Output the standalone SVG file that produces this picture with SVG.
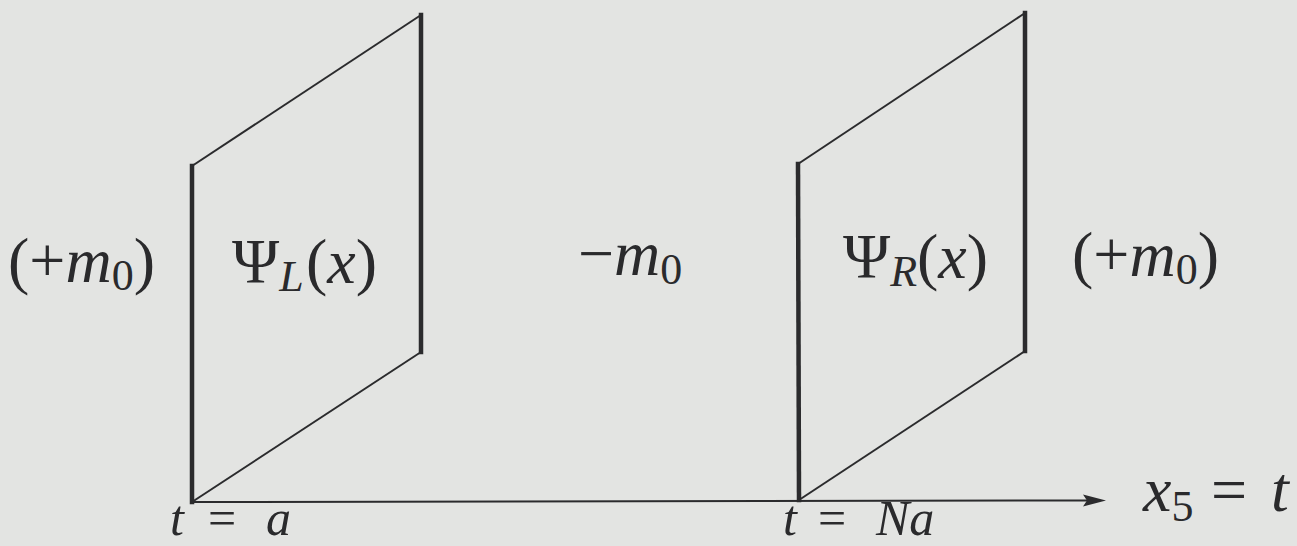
<svg xmlns="http://www.w3.org/2000/svg" width="1297" height="546" viewBox="0 0 1297 546">
<style>
.thick{stroke:#2b2b2d;stroke-width:4.5;fill:none;stroke-linecap:square}
.thin{stroke:#2b2b2d;stroke-width:2;fill:none}
.m{font-family:"Liberation Serif","Times New Roman",serif;font-size:64px;fill:#2a2a2c}
.b{font-size:50px}
.i{font-style:italic}
.s{font-size:44px}
</style>
<rect width="1297" height="546" fill="#e3e4e2"/>
<g id="connectors">
<line x1="192" y1="502" x2="1090" y2="500.5" class="thin"/>
<polygon points="1083,494.5 1106,500.5 1083,506.5 1087,500.5" fill="#2b2b2d"/>
</g>
<g id="panel-left">
<line x1="192" y1="166" x2="192" y2="502" class="thick"/>
<line x1="421" y1="15" x2="421" y2="352" class="thick"/>
<line x1="192" y1="166" x2="421" y2="15" class="thin"/>
<line x1="192" y1="502" x2="421" y2="352" class="thin"/>
<text class="m" x="232" y="283">Ψ<tspan class="i s" dy="8">L</tspan><tspan dy="-8" x="306">(</tspan><tspan class="i">x</tspan>)</text>
</g>
<g id="panel-right">
<line x1="798" y1="164" x2="799" y2="500" class="thick"/>
<line x1="1025" y1="13" x2="1025" y2="351" class="thick"/>
<line x1="798" y1="164" x2="1025" y2="13" class="thin"/>
<line x1="799" y1="500" x2="1025" y2="351" class="thin"/>
<text class="m" x="843" y="278">Ψ<tspan class="i s" dy="8">R</tspan><tspan dy="-8" x="917">(</tspan><tspan class="i">x</tspan>)</text>
</g>
<g id="label-left-mass">
<text class="m" x="8" y="282">(+<tspan class="i">m</tspan><tspan class="s" dy="8">0</tspan><tspan dy="-8">)</tspan></text>
</g>
<g id="label-middle-mass">
<text class="m" x="578" y="275">−<tspan class="i">m</tspan><tspan class="s" dy="9">0</tspan></text>
</g>
<g id="label-right-mass">
<text class="m" x="1072" y="276">(+<tspan class="i">m</tspan><tspan class="s" dy="8">0</tspan><tspan dy="-8">)</tspan></text>
</g>
<g id="label-ta">
<text class="m b" x="170" y="535"><tspan class="i">t</tspan><tspan x="208">=</tspan><tspan class="i" x="266">a</tspan></text>
</g>
<g id="label-tNa">
<text class="m b" x="783" y="535"><tspan class="i">t</tspan><tspan x="818">=</tspan><tspan class="i" x="876">Na</tspan></text>
</g>
<g id="label-axis">
<text class="m" x="1143" y="511"><tspan class="i">x</tspan><tspan class="s" dy="10">5</tspan><tspan dy="-10" x="1211">=</tspan><tspan class="i" x="1271">t</tspan></text>
</g>
</svg>
